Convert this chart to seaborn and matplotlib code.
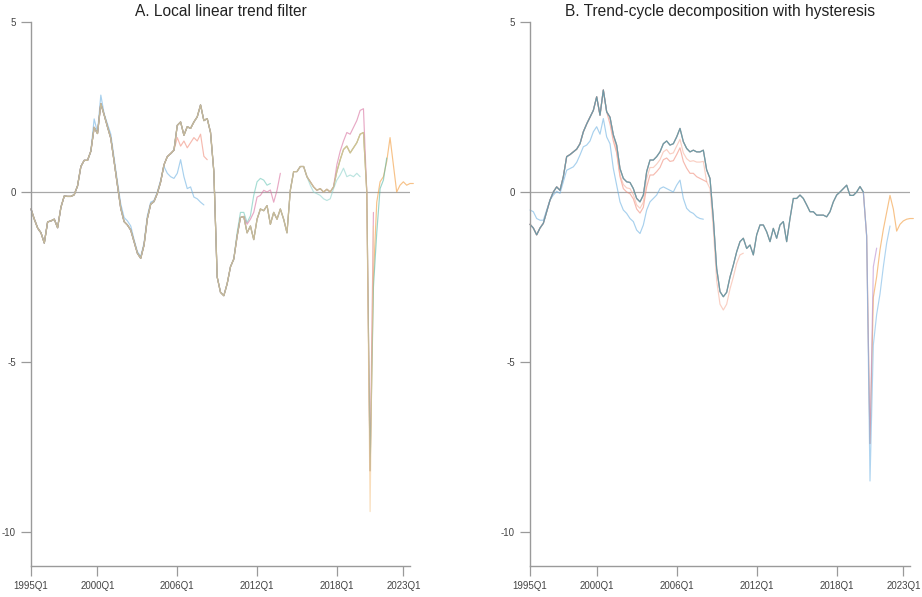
import matplotlib
matplotlib.use("Agg")
import matplotlib.pyplot as plt
import numpy as np
import pandas as pd
import seaborn as sns

# ---------------- data (output-gap vintages, % ) ----------------
start_period = "1995Q1"
n_quarters = 116
tick_labels = ["1995Q1", "2000Q1", "2006Q1", "2012Q1", "2018Q1", "2023Q1"]
y_ticks = [5, 0, -5, -10]

titles = ["A. Local linear trend filter",
          "B. Trend-cycle decomposition with hysteresis"]

# Panel A: latest vintage
A_final = [-0.5, -0.8, -1.06, -1.2, -1.5, -0.88, -0.85, -0.8, -1.05, -0.45,
           -0.12, -0.13, -0.13, -0.08, 0.18, 0.75, 0.93, 0.93, 1.2, 1.9,
           1.72, 2.6, 2.27, 1.92, 1.58, 0.9, 0.2, -0.48, -0.87, -0.97,
           -1.12, -1.46, -1.8, -1.95, -1.56, -0.78, -0.36, -0.28, -0.04, 0.3,
           0.8, 1.04, 1.13, 1.23, 1.96, 2.06, 1.67, 1.92, 1.87, 2.06,
           2.21, 2.56, 2.1, 2.16, 1.75, 0.6, -2.5, -2.95, -3.05, -2.7,
           -2.2, -1.97, -1.3, -0.75, -0.72, -1.2, -1.0, -1.4, -0.8, -0.5,
           -0.55, -0.4, -0.95, -0.6, -0.8, -0.5, -0.8, -1.2, 0.05, 0.6,
           0.6, 0.75, 0.75, 0.45, 0.3, 0.15, 0.05, 0.1, 0.0, 0.08,
           0.0, 0.15, 0.6, 0.95, 1.25, 1.35, 1.15, 1.3, 1.45, 1.7,
           1.75, 0.0, -8.2, -2.5, -0.3, 0.3, 0.45, 0.9, 1.6, 0.8,
           0.0, 0.2, 0.3, 0.2, 0.25, 0.25]
A_blue_tail = [2.15, 1.75, 2.85, 2.3, 2.0, 1.7, 1.0, 0.3, -0.35, -0.75,
               -0.85, -1.0, -1.4, -1.75, -1.9, -1.5, -0.7, -0.3, -0.25, 0.0,
               0.35, 0.75, 0.55, 0.45, 0.4, 0.55, 0.95, 0.45, 0.1, 0.15,
               -0.15, -0.2, -0.3, -0.38]
A_salmon_tail = [1.6, 1.35, 1.5, 1.3, 1.45, 1.6, 1.5, 1.7, 1.05, 0.95]
A_teal1_tail = [-1.2, -0.6, -0.6, -0.9, -0.7, -0.1, 0.3, 0.4, 0.35, 0.2, 0.25]
A_pink1_tail = [-0.95, -0.8, -0.6, -0.15, -0.1, 0.05, 0.0, 0.06, -0.3, 0.05, 0.55]
A_teal2_tail = [0.2, 0.0, -0.05, -0.1, -0.2, -0.25, -0.2, 0.1, 0.35, 0.5,
                0.7, 0.45, 0.5, 0.45, 0.55, 0.45]
A_pink2_tail = [0.8, 1.2, 1.5, 1.75, 1.7, 1.9, 2.1, 2.4, 2.45, 0.0, -8.2, -0.6]
A_teal3_tail = [-8.2, -2.8, -1.2, 0.1, 0.35, 1.0]
A_peach_tail = [-9.4, -1.0]

# Panel B: latest vintage
B_final = [-0.95, -1.06, -1.26, -1.06, -0.92, -0.58, -0.24, 0.0, 0.15, 0.05,
           0.45, 1.04, 1.1, 1.18, 1.26, 1.42, 1.77, 2.0, 2.2, 2.4,
           2.8, 2.26, 3.0, 2.36, 2.2, 1.68, 1.38, 0.69, 0.4, 0.3,
           0.28, 0.1, -0.19, -0.29, -0.09, 0.6, 0.94, 0.94, 1.04, 1.18,
           1.42, 1.5, 1.38, 1.42, 1.62, 1.87, 1.48, 1.28, 1.18, 1.23,
           1.18, 1.18, 1.23, 0.65, 0.4, -0.78, -2.25, -2.93, -3.08, -2.95,
           -2.5, -2.15, -1.76, -1.46, -1.36, -1.66, -1.56, -1.85, -1.26, -0.97,
           -0.97, -1.17, -1.46, -1.07, -1.36, -0.97, -0.87, -1.46, -0.78, -0.19,
           -0.19, -0.09, -0.19, -0.38, -0.58, -0.58, -0.68, -0.68, -0.68, -0.73,
           -0.58, -0.29, -0.09, 0.0, 0.1, 0.2, -0.1, -0.1, 0.0, 0.16,
           0.0, -1.3, -7.4, -3.1, -2.49, -1.7, -1.1, -0.6, -0.1, -0.5,
           -1.15, -0.95, -0.85, -0.8, -0.78, -0.78]
B_blue = [-0.53, -0.58, -0.78, -0.83, -0.83, -0.53, -0.24, -0.09, 0.02, -0.04,
          0.3, 0.64, 0.69, 0.74, 0.87, 1.09, 1.33, 1.38, 1.5, 1.77,
          1.92, 1.7, 2.16, 1.62, 1.42, 0.69, 0.2, -0.29, -0.53, -0.63,
          -0.78, -0.87, -1.12, -1.22, -0.97, -0.53, -0.29, -0.19, -0.09, 0.1,
          0.15, 0.1, 0.05, 0.0, 0.2, 0.35, -0.19, -0.48, -0.58, -0.63,
          -0.73, -0.78, -0.8]
B_salmon_tail = [2.0, 1.5, 1.15, 0.45, 0.1, 0.0, -0.05, -0.2, -0.5, -0.62,
                 -0.45, 0.15, 0.5, 0.5, 0.6, 0.72, 0.95, 1.0, 0.9, 0.92,
                 1.1, 1.3, 0.9, 0.7, 0.55, 0.55, 0.45, 0.4, 0.35, 0.3]
B_lsalmon_tail = [1.2, 0.5, 0.22, 0.12, 0.1, -0.08, -0.38, -0.48, -0.3, 0.4,
                  0.72, 0.72, 0.82, 0.95, 1.18, 1.25, 1.12, 1.15, 1.35, 1.55,
                  1.15, 0.98, 0.9, 0.92, 0.88, 0.88, 0.9, 0.3, 0.1, -1.1,
                  -2.6, -3.3, -3.47, -3.3, -2.85, -2.5, -2.1, -1.85, -1.8]
B_pink_tail = [-2.2, -1.65]
B_blue2_tail = [-8.5, -4.5, -3.6, -3.0, -2.2, -1.5, -1.0]

panel_A = {
    "final": A_final,
    "blue": A_final[:19] + A_blue_tail,
    "salmon": A_final[:44] + A_salmon_tail,
    "teal1": A_final[:62] + A_teal1_tail,
    "pink1": A_final[:65] + A_pink1_tail,
    "teal2": A_final[:84] + A_teal2_tail,
    "pink2": A_final[:92] + A_pink2_tail,
    "teal3": A_final[:102] + A_teal3_tail,
    "peach": A_final[:102] + A_peach_tail,
}
panel_B = {
    "final": B_final,
    "blue": B_blue,
    "salmon": B_final[:24] + B_salmon_tail,
    "lsalmon": B_final[:26] + B_lsalmon_tail,
    "pink": B_final[:103] + B_pink_tail,
    "blue2": B_final[:102] + B_blue2_tail,
    "green": B_final[:101],
}
colors = {"blue": "#6fb2e2", "salmon": "#f08c7a", "lsalmon": "#f6b09c",
          "teal1": "#6cc7b8", "pink1": "#d9709e", "teal2": "#8fd3cc",
          "pink2": "#d8719f", "teal3": "#58b8a6", "peach": "#f5c890",
          "green": "#4f8f86", "pink": "#b58ad0", "blue2": "#7ab8e6",
          "final": "#f29a3a"}

periods = pd.period_range(start_period, periods=n_quarters, freq="Q")
tq = periods.year + (periods.quarter - 1) / 4.0


def to_frame(panel):
    rows = []
    for name, vals in panel.items():
        for i, v in enumerate(vals):
            rows.append((name, tq[i], v))
    return pd.DataFrame(rows, columns=["vintage", "t", "value"])


def label_to_t(s):
    p = pd.Period(s, freq="Q")
    return p.year + (p.quarter - 1) / 4.0


sns.set_theme(style="white")
plt.rcParams["font.family"] = ["Liberation Sans", "DejaVu Sans"]

fig = plt.figure(figsize=(9.22, 5.97), dpi=100)
axes = [fig.add_axes([31 / 922, 31 / 597, 379 / 922, 544 / 597]),
        fig.add_axes([530 / 922, 31 / 597, 380 / 922, 544 / 597])]

for ax, panel, title in zip(axes, [panel_A, panel_B], titles):
    ax.axhline(0, color="#a8a8a8", lw=0.9, zorder=0)
    df = to_frame(panel)
    order = list(panel.keys())
    sns.lineplot(data=df, x="t", y="value", hue="vintage", hue_order=order,
                 palette={k: colors[k] for k in order}, legend=False,
                 estimator=None, sort=False, lw=0.85, alpha=0.6, ax=ax)
    for ln in ax.lines[1:]:
        ln.set_clip_on(False)
    ax.set_xlim(1995, 2023.5)
    ax.set_ylim(-11, 5)
    ax.set_xticks([label_to_t(s) for s in tick_labels])
    ax.set_xticklabels(tick_labels)
    ax.set_yticks(y_ticks)
    ax.set_yticklabels([str(v) for v in y_ticks])
    ax.set_xlabel("")
    ax.set_ylabel("")
    for s in ["top", "right"]:
        ax.spines[s].set_visible(False)
    for s in ["left", "bottom"]:
        ax.spines[s].set_color("#9a9a9a")
        ax.spines[s].set_linewidth(1.0)
    ax.tick_params(axis="both", which="major", bottom=True, left=True,
                   direction="out", length=7.5, width=0.9,
                   color="#9a9a9a", labelsize=7, labelcolor="#444444", pad=3.5)
    ax.set_title(title, fontsize=11.2, color="#222222", pad=4)

fig.savefig("out.png", dpi=100, facecolor="white")
